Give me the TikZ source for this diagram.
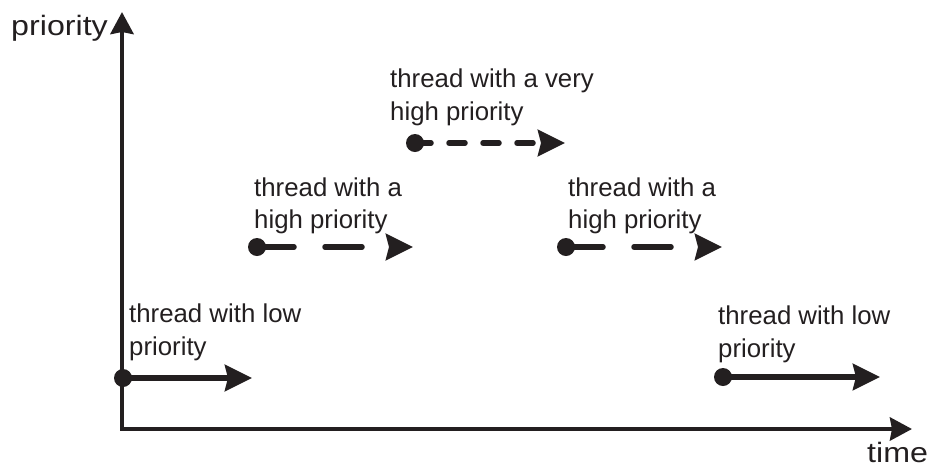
\documentclass[tikz,border=0pt]{standalone}
\usepackage{fontspec}
\setmainfont{Liberation Sans}
\usetikzlibrary{arrows.meta}
\definecolor{ink}{HTML}{231F20}
\begin{document}
\begin{tikzpicture}[x=1pt,y=-1pt,
  lbl/.style={anchor=north west,inner sep=0pt,align=left,text=ink,font=\fontsize{25.8}{32.5}\selectfont},
  axlbl/.style={anchor=base west,inner sep=0pt,text=ink,font=\fontsize{28}{30}\selectfont,xscale=1.15,transform shape},
  dot/.style={circle,fill=ink,inner sep=0pt,minimum size=18pt},
  axis/.style={draw=ink,line width=4.5pt,{Stealth[length=22pt,width=23pt,inset=2pt]}-{Stealth[length=22pt,width=23pt,inset=2pt]}},
  flow/.style={draw=ink,line width=5.5pt,-{Stealth[length=27pt,width=26pt,inset=3pt]}},
  highdash/.style={dash pattern=on 37pt off 31pt,line cap=round},
  vhighdash/.style={dash pattern=on 16pt off 18pt,line cap=round}]
\useasboundingbox (0,0) rectangle (934,467);
% axes
\coordinate (Ytop) at (122,12);
\coordinate (O) at (122,429);
\coordinate (Xend) at (912,429);
\draw[axis] (Ytop) -- (O) -- (Xend);
\node[axlbl] (ylab) at (11,35) {priority};
\node[axlbl] (xlab) at (867,462) {time};
% low 1
\node[dot] (d1) at (123,378) {};
\coordinate (e1) at (252,378);
\draw[flow] (d1.center) -- (e1);
\node[lbl] (l1) at (129,304) {thread with low\\priority};
% high 1
\node[dot] (d2) at (257,247) {};
\coordinate (e2) at (413,247);
\draw[flow,highdash] (d2.center) -- (e2);
\node[lbl] (l2) at (254,177.5) {thread with a\\high priority};
% very high
\node[dot] (d3) at (415,143) {};
\coordinate (e3) at (565,143);
\draw[flow,vhighdash] (d3.center) -- (e3);
\node[lbl] (l3) at (390,69) {thread with a very\\high priority};
% high 2
\node[dot] (d4) at (566,247) {};
\coordinate (e4) at (722,247);
\draw[flow,highdash] (d4.center) -- (e4);
\node[lbl] (l4) at (568,177.5) {thread with a\\high priority};
% low 2
\node[dot] (d5) at (723,377) {};
\coordinate (e5) at (880,377);
\draw[flow] (d5.center) -- (e5);
\node[lbl] (l5) at (718,306) {thread with low\\priority};
\end{tikzpicture}
\end{document}
